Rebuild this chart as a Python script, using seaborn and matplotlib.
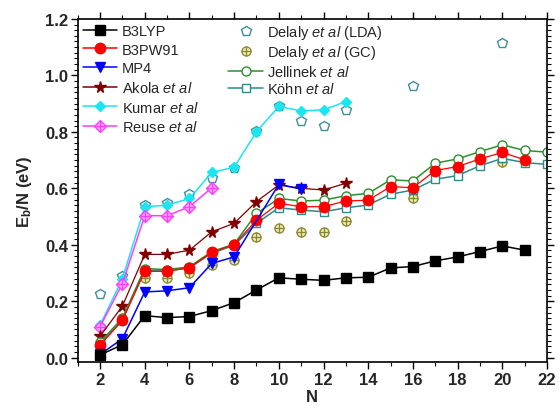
import numpy as np
import pandas as pd
import matplotlib
matplotlib.use("Agg")
import matplotlib.pyplot as plt
from matplotlib.lines import Line2D
from matplotlib.ticker import MultipleLocator
import seaborn as sns

# Binding energy per atom E_b/N (eV) versus cluster size N
n_b3lyp = list(range(2, 22))
b3lyp = [0.010, 0.046, 0.149, 0.142, 0.146, 0.167, 0.195, 0.240, 0.283, 0.278,
         0.274, 0.283, 0.285, 0.318, 0.323, 0.343, 0.357, 0.376, 0.396, 0.381]

n_b3pw91 = list(range(2, 22))
b3pw91 = [0.044, 0.132, 0.306, 0.306, 0.319, 0.373, 0.401, 0.487, 0.547, 0.535,
          0.535, 0.555, 0.558, 0.606, 0.602, 0.663, 0.677, 0.704, 0.727, 0.701]

n_mp4 = [2, 3, 4, 5, 6, 7, 8, 10, 11]
mp4 = [0.012, 0.067, 0.233, 0.237, 0.248, 0.334, 0.357, 0.614, 0.597]

n_akola = list(range(2, 14))
akola = [0.076, 0.183, 0.366, 0.366, 0.381, 0.446, 0.476, 0.553, 0.612, 0.600,
         0.594, 0.618]

n_kumar = list(range(2, 14))
kumar = [0.115, 0.280, 0.535, 0.540, 0.564, 0.656, 0.675, 0.800, 0.890, 0.874,
         0.878, 0.907]

n_reuse = list(range(2, 8))
reuse = [0.110, 0.262, 0.503, 0.503, 0.535, 0.602]

n_jellinek = list(range(2, 23))
jellinek = [0.055, 0.140, 0.316, 0.312, 0.322, 0.376, 0.402, 0.511, 0.564, 0.555,
            0.558, 0.574, 0.582, 0.630, 0.626, 0.689, 0.704, 0.730, 0.754, 0.734,
            0.728]

n_kohn = list(range(2, 23))
kohn = [0.050, 0.135, 0.310, 0.308, 0.318, 0.370, 0.398, 0.476, 0.531, 0.523,
        0.517, 0.531, 0.541, 0.579, 0.594, 0.632, 0.645, 0.680, 0.706, 0.691,
        0.685]

n_delaly = [2, 3, 4, 5, 6, 7, 8, 9, 10, 11, 12, 13, 16, 20]
delaly_lda = [0.225, 0.290, 0.541, 0.547, 0.580, 0.635, 0.671, 0.803, 0.890,
              0.839, 0.819, 0.878, 0.964, 1.115]
delaly_gc = [0.050, 0.135, 0.284, 0.282, 0.300, 0.330, 0.345, 0.428, 0.458,
             0.446, 0.444, 0.485, 0.564, 0.694]

x_ticks = list(range(2, 23, 2))
y_ticks = [0.0, 0.2, 0.4, 0.6, 0.8, 1.0, 1.2]

sns.set_theme(style="ticks")
plt.rcParams["font.family"] = ["Liberation Sans", "DejaVu Sans"]
plt.rcParams["mathtext.fontset"] = "custom"
plt.rcParams["mathtext.rm"] = "Liberation Sans"
plt.rcParams["mathtext.it"] = "Liberation Sans:italic"
plt.rcParams["mathtext.bf"] = "Liberation Sans:bold"

fig, ax = plt.subplots(figsize=(5.59, 4.06), dpi=100)
fig.subplots_adjust(left=0.139, right=0.9785, top=0.951, bottom=0.106)

c_akola = "#800000"
c_kumar = "#19e6f0"
c_reuse = "#ff3cff"
c_jell = "#2f8f2f"
c_kohn = "#2a8c8c"
c_lda = "#3f8f99"
c_gc = "#8a8a35"

def draw(n, v, color, marker, ms, lw=1.1, mfc=None, mec=None, ls="-", z=2, mew=1.0):
    sns.lineplot(x=n, y=v, ax=ax, color=color, marker=marker, markersize=ms,
                 linewidth=lw, linestyle=ls,
                 markerfacecolor=mfc if mfc is not None else color,
                 markeredgecolor=mec if mec is not None else color,
                 markeredgewidth=mew, legend=False, zorder=z, errorbar=None)

# Reference / literature data
draw(n_delaly, delaly_lda, c_lda, "p", 7.5, mfc="white", ls="none", z=1.5)
draw(n_delaly, delaly_gc, c_gc, "o", 6.5, mfc="#f4f0c0", ls="none", z=1.5)
draw(n_delaly, delaly_gc, c_gc, "+", 6.5, ls="none", z=1.6)
draw(n_kumar, kumar, c_kumar, "D", 5.5, z=2)
draw(n_reuse, reuse, c_reuse, "D", 6.0, mfc="#ffb0ff", z=2.1)
draw(n_reuse, reuse, c_reuse, "+", 7.0, ls="none", z=2.2)
draw(n_akola, akola, c_akola, "*", 8.5, lw=0.9, z=2.3)
draw(n_kohn, kohn, c_kohn, "s", 6.0, mfc="white", z=2.4)
draw(n_jellinek, jellinek, c_jell, "o", 6.5, mfc="white", z=2.5)

# Present calculations
draw(n_b3pw91, b3pw91, "#ff0000", "o", 7.5, lw=0.9, z=3)
draw(n_mp4, mp4, "#0000ff", "v", 7.5, z=3.1)
draw(n_b3lyp, b3lyp, "#000000", "s", 6.5, z=3.2)

ax.set_xlim(1, 22)
ax.set_ylim(-0.015, 1.2)
ax.xaxis.set_major_locator(MultipleLocator(2))
ax.xaxis.set_minor_locator(MultipleLocator(1))
ax.yaxis.set_major_locator(MultipleLocator(0.2))
ax.yaxis.set_minor_locator(MultipleLocator(0.02))
ax.set_xticks(x_ticks)
ax.set_yticks(y_ticks)
ax.set_xticklabels([str(t) for t in x_ticks])
ax.set_yticklabels([f"{t:.1f}" for t in y_ticks])
ax.tick_params(which="both", direction="out", top=True, right=True,
               labeltop=False, labelright=False, color="black")
ax.tick_params(which="major", length=5, width=1.0, labelsize=12, pad=2)
ax.tick_params(which="minor", length=3, width=0.8)
for lab in ax.get_xticklabels() + ax.get_yticklabels():
    lab.set_fontweight("bold")
for sp in ax.spines.values():
    sp.set_linewidth(1.2)
    sp.set_color("black")

ax.set_xlabel("N", fontsize=12, fontweight="bold", labelpad=2)
ax.set_ylabel(r"E$_\mathbf{b}$/N (eV)", fontsize=12, fontweight="bold", labelpad=8)

def h(color, marker, ms, mfc=None, ls="-", lw=1.1):
    return Line2D([], [], color=color, marker=marker, markersize=ms, linestyle=ls,
                  linewidth=lw, markerfacecolor=mfc if mfc is not None else color,
                  markeredgecolor=color)

etal = r" $\mathit{et\ al}$"
handles1 = [h("#000000", "s", 6.5), h("#ff0000", "o", 7.5), h("#0000ff", "v", 7.5),
            h(c_akola, "*", 8.5), h(c_kumar, "D", 5.5),
            (h(c_reuse, "D", 6.0, mfc="#ffb0ff"), h(c_reuse, "+", 7.0, ls="none"))]
labels1 = ["B3LYP", "B3PW91", "MP4", "Akola" + etal, "Kumar" + etal, "Reuse" + etal]

handles2 = [h(c_lda, "p", 7.5, mfc="white", ls="none"),
            (h(c_gc, "o", 6.5, mfc="#f4f0c0", ls="none"), h(c_gc, "+", 6.5, ls="none")),
            h(c_jell, "o", 6.5, mfc="white"), h(c_kohn, "s", 6.0, mfc="white")]
labels2 = ["Delaly" + etal + " (LDA)", "Delaly" + etal + " (GC)",
           "Jellinek" + etal, "Köhn" + etal]

common = dict(frameon=False, fontsize=10.5, handlelength=2.35, handletextpad=0.3,
              borderaxespad=0.0, borderpad=0.2, numpoints=1)
leg1 = ax.legend(handles1, labels1, loc="upper left", labelspacing=0.32,
                 bbox_to_anchor=(0.005, 0.994), **common)
ax.add_artist(leg1)
ax.legend(handles2, labels2, loc="upper left", labelspacing=0.17,
          bbox_to_anchor=(0.315, 0.997), **common)

fig.savefig("out.png", dpi=100)
